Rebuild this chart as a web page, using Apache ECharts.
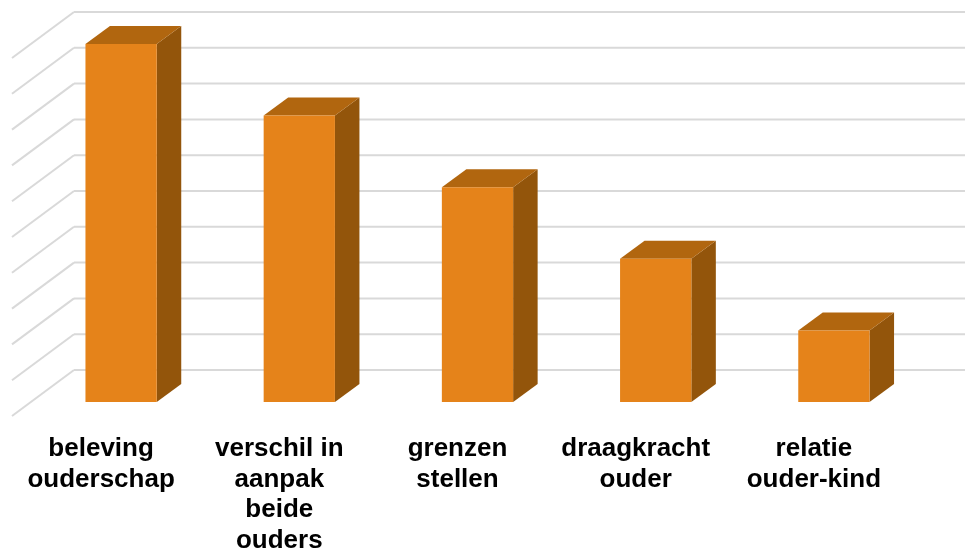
<!DOCTYPE html>
<html>
<head>
<meta charset="utf-8">
<script src="https://cdn.jsdelivr.net/npm/echarts@6/dist/echarts.min.js"></script>
<style>
  html, body { margin: 0; padding: 0; background: #ffffff; }
  #chart { width: 965px; height: 550px; }
</style>
</head>
<body>
<div id="chart"></div>
<script>
// Categories (line breaks as shown under each bar)
const categories = [
  'beleving\nouderschap',
  'verschil in\naanpak\nbeide\nouders',
  'grenzen\nstellen',
  'draagkracht\nouder',
  'relatie\nouder-kind'
];
// Bar heights
const values = [10, 8, 6, 4, 2];
// Gridline levels drawn on the back wall and floor side
const gridLevels = [0, 1, 2, 3, 4, 5, 6, 7, 8, 9, 10];

// Perspective offsets (pixels) relative to the front edge of the floor
const WALL_DX = 62, WALL_DY = -46;     // back wall
const BAR_DX = 20, BAR_DY = -14;       // front face of the bars
const DEPTH_DX = 24.5, DEPTH_DY = -18; // bar depth
const BAR_RATIO = 0.4;

const FRONT = '#E5831A';
const TOP = '#B1660F';
const SIDE = '#93550B';
const GRID = '#D9D9D9';

const chart = echarts.init(document.getElementById('chart'), null, { renderer: 'canvas' });

function renderWall(params, api) {
  const cs = params.coordSys;
  const y = api.coord([0, api.value(1)])[1];
  const x0 = cs.x;
  return {
    type: 'group',
    children: [
      {
        type: 'line',
        shape: { x1: x0, y1: y, x2: x0 + WALL_DX, y2: y + WALL_DY },
        style: { stroke: GRID, lineWidth: 2 }
      },
      {
        type: 'line',
        shape: { x1: x0 + WALL_DX, y1: y + WALL_DY, x2: x0 + WALL_DX + cs.width, y2: y + WALL_DY },
        style: { stroke: GRID, lineWidth: 2 }
      }
    ]
  };
}

function renderBar(params, api) {
  const idx = api.value(0);
  const top = api.coord([idx, api.value(1)]);
  const base = api.coord([idx, 0]);
  const w = api.size([1, 0])[0] * BAR_RATIO;
  const cx = top[0] + BAR_DX;
  const L = cx - w / 2, R = cx + w / 2;
  const T = top[1] + BAR_DY, B = base[1] + BAR_DY;
  return {
    type: 'group',
    children: [
      {
        type: 'polygon',
        shape: { points: [[R, T], [R + DEPTH_DX, T + DEPTH_DY], [R + DEPTH_DX, B + DEPTH_DY], [R, B]] },
        style: { fill: SIDE }
      },
      {
        type: 'polygon',
        shape: { points: [[L, T], [R, T], [R + DEPTH_DX, T + DEPTH_DY], [L + DEPTH_DX, T + DEPTH_DY]] },
        style: { fill: TOP }
      },
      {
        type: 'rect',
        shape: { x: L, y: T, width: w, height: B - T },
        style: { fill: FRONT }
      }
    ]
  };
}

chart.setOption({
  animation: false,
  backgroundColor: '#ffffff',
  grid: { left: 12, width: 891, top: 58, bottom: 134, containLabel: false, outerBoundsMode: 'none' },
  xAxis: {
    type: 'category',
    data: categories,
    axisLine: { show: false },
    axisTick: { show: false },
    splitLine: { show: false },
    axisLabel: {
      interval: 0,
      margin: 18,
      color: '#000000',
      fontFamily: '"Liberation Sans", Arial, sans-serif',
      fontWeight: 'bold',
      fontSize: 26,
      lineHeight: 30.5,
      align: 'center'
    }
  },
  yAxis: {
    type: 'value',
    min: 0,
    max: 10,
    interval: 1,
    show: false,
    splitLine: { show: false }
  },
  series: [
    {
      type: 'custom',
      name: 'wall',
      silent: true,
      z: 1,
      renderItem: renderWall,
      data: gridLevels.map(v => [0, v])
    },
    {
      type: 'custom',
      name: 'bars',
      z: 2,
      renderItem: renderBar,
      data: values.map((v, i) => [i, v])
    }
  ]
});
</script>
</body>
</html>
